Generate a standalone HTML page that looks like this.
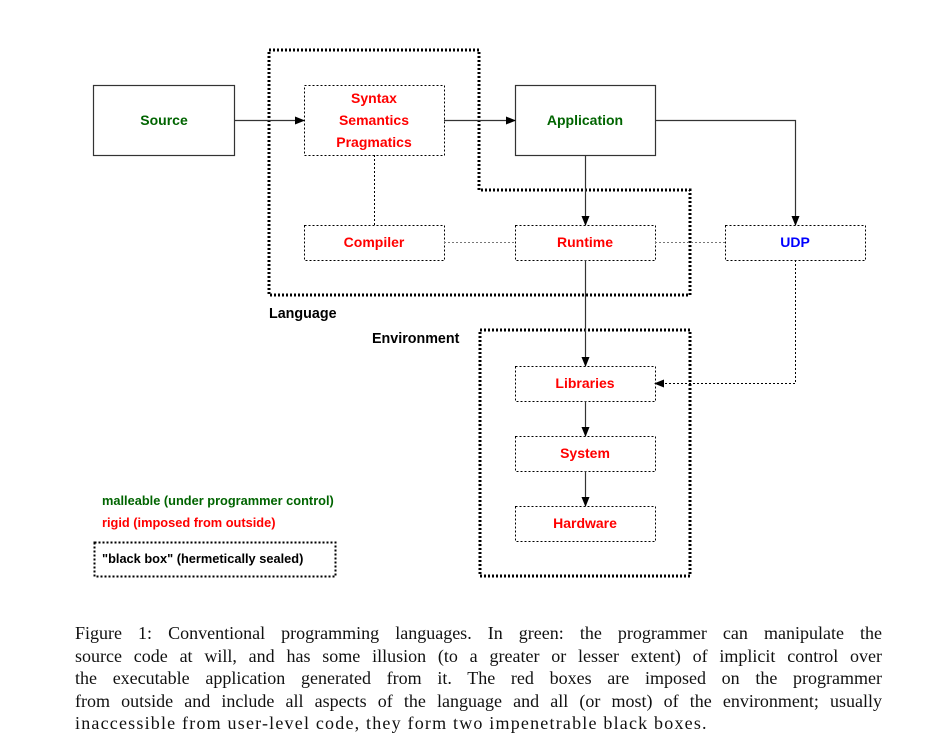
<!DOCTYPE html>
<html><head><meta charset="utf-8"><style>
html,body{margin:0;padding:0;background:#fff;width:945px;height:747px;overflow:hidden;position:relative}
svg{position:absolute;left:0;top:0}
.cap{position:absolute;left:75px;width:807px;font-family:"Liberation Serif",serif;font-size:18px;color:#111;white-space:nowrap}
.cap div{height:22.6px;line-height:22.6px;text-align:justify;text-align-last:justify}
.cap div.l{text-align-last:left;letter-spacing:1.2px}
</style></head><body>
<svg width="945" height="747" viewBox="0 0 945 747" font-family="Liberation Sans, sans-serif" font-weight="bold">
<defs><marker id="a" markerWidth="10" markerHeight="8" refX="9" refY="4" orient="auto" markerUnits="userSpaceOnUse"><path d="M0,0 L10,4 L0,8z" fill="#000"/></marker></defs>
<path d="M269,50 H479 V190 H690 V295 H269 Z" fill="none" stroke="#000" stroke-width="3" stroke-dasharray="2,2"/>
<rect x="480" y="330" width="210" height="246" fill="none" stroke="#000" stroke-width="3" stroke-dasharray="2,2"/>
<rect x="93.5" y="85.5" width="141" height="70" fill="none" stroke="#333" stroke-width="1.2"/>
<rect x="515.5" y="85.5" width="140" height="70" fill="none" stroke="#333" stroke-width="1.2"/>
<g fill="none" stroke="#000" stroke-width="1" stroke-dasharray="2,2">
<rect x="304.5" y="85.5" width="140" height="70"/>
<rect x="304.5" y="225.5" width="140" height="35"/>
<rect x="515.5" y="225.5" width="140" height="35"/>
<rect x="725.5" y="225.5" width="140" height="35"/>
<rect x="515.5" y="366.5" width="140" height="35"/>
<rect x="515.5" y="436.5" width="140" height="35"/>
<rect x="515.5" y="506.5" width="140" height="35"/>
<rect x="94.5" y="542.5" width="241" height="34" stroke-width="2"/>
</g>
<g stroke="#333" stroke-width="1.2" fill="none">
<path d="M234,120.5 H304" marker-end="url(#a)"/>
<path d="M444,120.5 H515" marker-end="url(#a)"/>
<path d="M655,120.5 H795.5 V225" marker-end="url(#a)"/>
<path d="M585.5,155 V225" marker-end="url(#a)"/>
<path d="M585.5,260 V366" marker-end="url(#a)"/>
<path d="M585.5,401 V436" marker-end="url(#a)"/>
<path d="M585.5,471 V506" marker-end="url(#a)"/>
</g>
<g stroke="#000" stroke-width="1" fill="none" stroke-dasharray="2,2">
<path d="M374.5,155 V225"/>
<path d="M795.5,260 V383.5 H655" marker-end="url(#a)"/>
</g>
<g stroke="#777" stroke-width="1" fill="none" stroke-dasharray="2,2">
<path d="M444,242.5 H515"/>
<path d="M655,242.5 H725"/>
</g>
<g font-size="14" text-anchor="middle">
<text x="164" y="125" fill="#006400">Source</text>
<text x="585" y="125" fill="#006400">Application</text>
<text x="374" y="103" fill="#f00">Syntax</text>
<text x="374" y="125" fill="#f00">Semantics</text>
<text x="374" y="147" fill="#f00">Pragmatics</text>
<text x="374" y="247" fill="#f00">Compiler</text>
<text x="585" y="247" fill="#f00">Runtime</text>
<text x="795" y="247" fill="#00f">UDP</text>
<text x="585" y="388" fill="#f00">Libraries</text>
<text x="585" y="458" fill="#f00">System</text>
<text x="585" y="528" fill="#f00">Hardware</text>
</g>
<text x="269" y="318" font-size="14.3" fill="#000">Language</text>
<text x="372" y="343" font-size="14.3" fill="#000">Environment</text>
<text x="102" y="505" font-size="12.8" fill="#006400">malleable (under programmer control)</text>
<text x="102" y="527" font-size="12.8" fill="#f00">rigid (imposed from outside)</text>
<text x="102" y="563" font-size="12.8" fill="#000">"black box" (hermetically sealed)</text>
</svg>
<div class="cap" style="top:622px">
<div>Figure 1: Conventional programming languages. In green: the programmer can manipulate the</div>
<div>source code at will, and has some illusion (to a greater or lesser extent) of implicit control over</div>
<div>the executable application generated from it. The red boxes are imposed on the programmer</div>
<div>from outside and include all aspects of the language and all (or most) of the environment; usually</div>
<div class="l">inaccessible from user-level code, they form two impenetrable black boxes.</div>
</div>
</body></html>
